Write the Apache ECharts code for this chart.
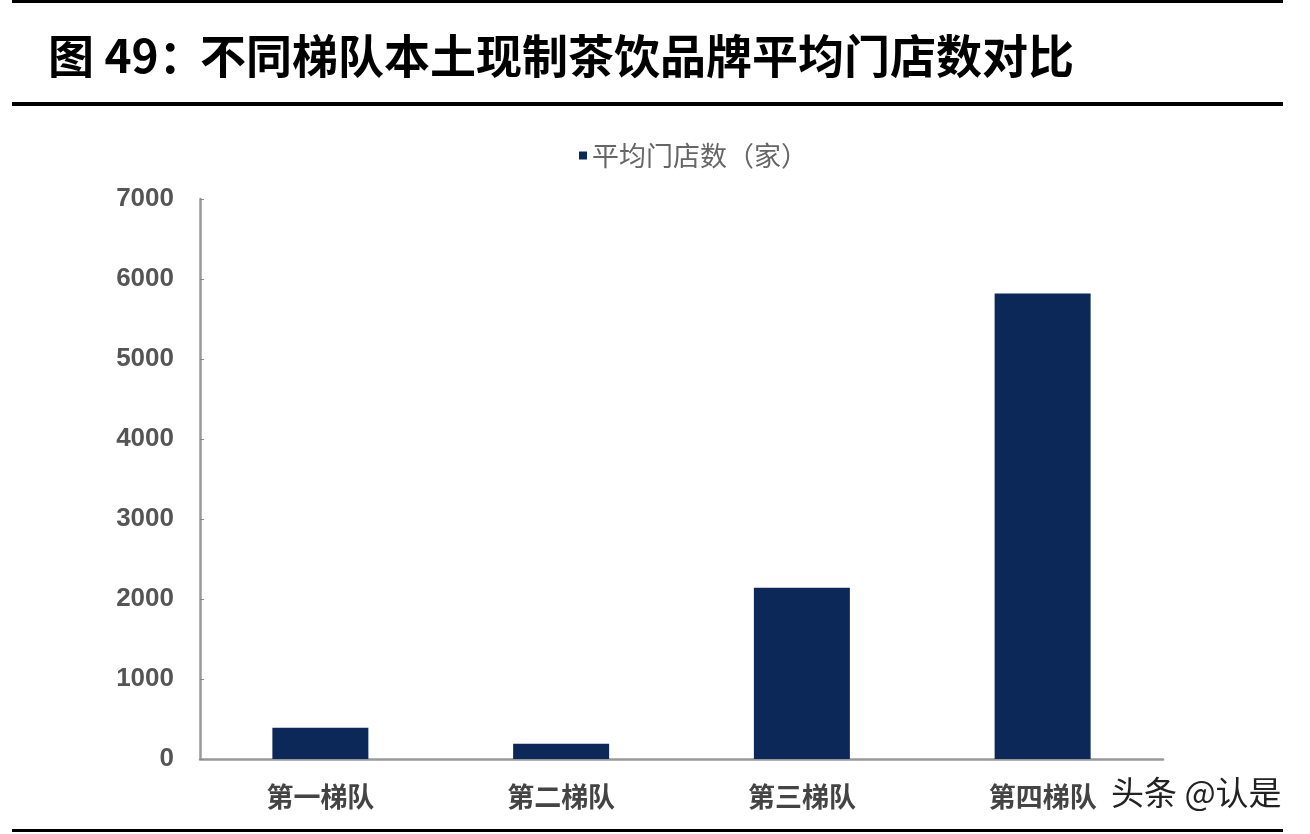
<!DOCTYPE html>
<html><head><meta charset="utf-8">
<script src="https://cdn.jsdelivr.net/npm/echarts@6/dist/echarts.min.js"></script>
<style>html,body{margin:0;padding:0;background:#fff;}#c{width:1310px;height:834px;}</style>
</head><body><div id="c"></div>
<script>
const categories = ['第一梯队', '第二梯队', '第三梯队', '第四梯队'];
const storeCounts = [390, 190, 2140, 5820];
const seriesName = '平均门店数（家）';
const yTicks = [0, 1000, 2000, 3000, 4000, 5000, 6000, 7000];
const titleText = '不同梯队本土现制茶饮品牌平均门店数对比';
const titlePrefix = '图 49：';
const watermark = '头条 @认是';

const chart = echarts.init(document.getElementById('c'));
chart.setOption({
  backgroundColor: '#ffffff',
  animation: false,
  grid: { left: 200, right: 147, top: 199, bottom: 75 },
  legend: {
    top: 137, left: 574,
    icon: 'rect', itemWidth: 8, itemHeight: 8, itemGap: 6,
    textStyle: { color: '#666', fontSize: 27, fontFamily: 'Noto Sans CJK SC' },
    data: [seriesName]
  },
  xAxis: {
    type: 'category', data: categories,
    axisLine: { lineStyle: { color: '#999', width: 2.5 } },
    axisTick: { inside: true, length: 6, lineStyle: { color: '#444', width: 1.5 } },
    axisLabel: { color: '#444', fontSize: 27, fontWeight: 'bold', margin: 24, fontFamily: 'Noto Sans CJK SC' }
  },
  yAxis: {
    type: 'value', min: yTicks[0], max: yTicks[yTicks.length - 1], interval: 1000,
    axisLine: { show: true, lineStyle: { color: '#999', width: 2.5 } },
    axisTick: { show: true, inside: true, length: 4, lineStyle: { color: '#888' } },
    splitLine: { show: false },
    axisLabel: { color: '#555', fontSize: 26, fontWeight: 'bold', margin: 26, fontFamily: 'Liberation Sans', formatter: v => String(v) }
  },
  series: [{
    name: seriesName, type: 'bar', data: storeCounts, barWidth: 96,
    itemStyle: { color: '#0b2858' }
  }],
  graphic: [
    { type: 'rect', shape: { x: 12, y: 0, width: 1271, height: 3 }, style: { fill: '#000' } },
    { type: 'text', left: 48, top: 33, style: { text: titlePrefix, font: 'bold 46px "Noto Sans CJK SC"', fill: '#000' } },
    { type: 'text', left: 200, top: 33, style: { text: titleText, font: 'bold 46px "Noto Sans CJK SC"', fill: '#000' } },
    { type: 'rect', shape: { x: 12, y: 102, width: 1271, height: 4 }, style: { fill: '#000' } },
    { type: 'rect', shape: { x: 12, y: 829, width: 1271, height: 3 }, style: { fill: '#000' } },
    { type: 'text', left: 1110, top: 775, style: { text: watermark, font: '33px "Noto Sans CJK SC"', fill: '#222', stroke: '#fff', lineWidth: 2 } }
  ]
});
</script></body></html>
